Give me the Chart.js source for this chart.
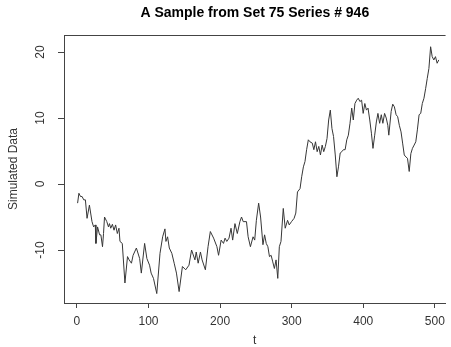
<!DOCTYPE html>
<html>
<head>
<meta charset="utf-8">
<script src="https://cdn.jsdelivr.net/npm/chart.js@4/dist/chart.umd.min.js"></script>
<style>
  html, body { margin: 0; padding: 0; background: #ffffff; }
  #wrap { width: 451px; height: 347px; position: relative; }
</style>
</head>
<body>
<div id="wrap"><canvas id="c" width="451" height="347"></canvas></div>
<script>
// ---- data ----
const tValues = [1,2.8,5.1,7.3,9.6,11.9,14.2,17.5,21.1,23.4,25.7,26.6,28.9,31.7,33.5,35.8,37.2,38.6,41.8,44.1,45.5,47.3,49.6,51.9,54.1,56.5,58.8,60.2,63.4,67.1,70.7,73,76.2,78.5,83.1,87.7,90,94.6,97.8,101.5,103.7,107,111.6,116.1,119.8,123,124.4,126.7,129.1,132.6,135.9,139.1,142.8,147.4,152,156.6,160.2,164.9,166.7,169.4,172.6,174.9,179.5,183.2,186.4,191,195.6,197.9,201.5,204.8,207,209.4,212.5,215.3,217.6,220.8,224.1,227.7,230,232.3,236.9,239.2,242.4,246.1,248.4,250.7,253.9,256.6,259.9,262.2,264.5,266.8,269,271.3,273.6,275.9,278.2,280.6,282.8,285.1,288.3,291,294.3,296.6,299.8,303.4,305.8,308.1,311.7,314,316.4,318.6,320.9,323.3,325.5,328.8,331,333.3,335.6,337.9,340.2,342.6,344.8,347.1,349.4,351.7,354,356.3,358.5,360.9,363.2,365.4,367.8,370.1,372.3,374.7,377,379.2,381.5,383.9,386.1,388.4,390.8,393,395.3,397.7,399.9,402.2,404.5,406.7,409.1,411.4,413.6,416,418.3,420.5,422.9,425.2,427.4,429.8,432.1,434.3,435.7,439,441.2,443.5,445.9,448.1,450.4,452.8,455,457.3,459.6,461.8,464.2,466.5,468.7,471.1,473.4,475.6,478,480.3,482.5,484.8,487.2,489.4,491.7,494.1,496.3,498.6,500.9,503.2,505.5];
const simulated = [-2.9,-1.4,-1.9,-1.9,-2.4,-2.4,-5.2,-3.2,-5.7,-6.5,-6.2,-9.0,-6.5,-7.7,-7.7,-9.5,-7.5,-5.0,-5.7,-6.5,-6.0,-6.7,-6.1,-7.0,-6.2,-7.5,-6.7,-8.7,-9.0,-15.0,-11.0,-11.5,-12.0,-10.8,-9.7,-11.3,-13.5,-9.0,-11.3,-12.3,-13.5,-14.3,-16.6,-10.5,-8.0,-6.8,-8.7,-8.0,-9.7,-10.5,-12.0,-13.5,-16.3,-12.5,-13.0,-12.3,-10.0,-11.5,-10.3,-12.0,-10.3,-11.5,-13.0,-9.5,-7.2,-8.2,-9.5,-10.8,-8.5,-9.0,-8.2,-8.7,-8.2,-6.7,-8.5,-6.0,-7.5,-5.7,-5.0,-5.7,-5.7,-8.0,-9.5,-8.0,-8.5,-5.5,-2.9,-5.0,-9.2,-7.7,-9.0,-9.5,-11.0,-10.8,-11.8,-12.8,-11.5,-14.3,-9.5,-8.7,-3.7,-6.7,-5.5,-6.2,-5.7,-5.2,-4.4,-1.2,-0.7,1.1,2.6,3.4,5.2,6.7,6.4,6.2,5.2,6.4,4.9,5.7,4.4,5.9,4.9,5.7,6.9,9.7,11.2,8.4,7.2,4.4,1.1,2.6,4.7,4.9,5.2,5.2,6.7,7.4,9.2,11.5,9.7,12.2,12.7,13.0,12.5,12.7,10.7,12.2,11.2,11.5,9.7,7.7,5.4,7.4,9.4,10.7,9.2,10.5,9.2,10.7,10.0,8.9,7.4,11.0,12.1,11.7,10.5,10.2,8.9,7.9,6.2,4.4,4.1,3.9,1.9,4.6,5.4,5.9,6.4,8.2,10.5,10.7,12.2,13.0,14.5,16.0,17.5,20.8,19.3,18.8,19.3,18.3,18.8];
const xTickValues = [0, 100, 200, 300, 400, 500];
const yTickValues = [-10, 0, 10, 20];
const chartTitle = 'A Sample from Set 75 Series # 946';
const xLabel = 't';
const yLabel = 'Simulated Data';

const points = tValues.map((t, i) => ({ x: t, y: simulated[i] }));
const FONT = "'Liberation Sans', Arial, sans-serif";

const topBorder = {
  id: 'topBorder',
  afterDraw(chart) {
    const { ctx, chartArea } = chart;
    ctx.save();
    ctx.strokeStyle = '#444444';
    ctx.lineWidth = 1;
    ctx.beginPath();
    ctx.moveTo(chartArea.left, Math.round(chartArea.top) + 0.5);
    ctx.lineTo(chartArea.right, Math.round(chartArea.top) + 0.5);
    ctx.stroke();
    ctx.restore();
  }
};

new Chart(document.getElementById('c'), {
  type: 'line',
  data: {
    datasets: [{
      data: points,
      borderColor: '#363636',
      borderWidth: 1,
      pointRadius: 0,
      tension: 0,
      fill: false
    }]
  },
  options: {
    responsive: false,
    animation: false,
    devicePixelRatio: 1,
    layout: { padding: { left: 0, right: 0, top: 0, bottom: 0 } },
    plugins: {
      legend: { display: false },
      tooltip: { enabled: false },
      title: {
        display: true,
        text: chartTitle,
        fullSize: false,
        color: '#000000',
        font: { family: FONT, size: 14, weight: 'bold' },
        padding: { top: 4.6, bottom: 13.6 }
      }
    },
    scales: {
      x: {
        type: 'linear',
        position: 'bottom',
        min: -18,
        max: 515,
        afterBuildTicks: (s) => { s.ticks = xTickValues.map(v => ({ value: v })); },
        afterFit: (s) => { s.height = 44; },
        ticks: {
          color: '#333333',
          font: { family: FONT, size: 12 },
          padding: 6,
          maxRotation: 0,
          minRotation: 0
        },
        grid: { drawOnChartArea: false, drawTicks: true, tickLength: 5, color: '#444444', lineWidth: 1 },
        border: { display: true, color: '#444444', width: 1 },
        title: {
          display: true,
          text: xLabel,
          color: '#333333',
          font: { family: FONT, size: 12 },
          padding: { top: 0, bottom: -1 }
        }
      },
      y: {
        type: 'linear',
        position: 'left',
        min: -18.03,
        max: 22.58,
        afterBuildTicks: (s) => { s.ticks = yTickValues.map(v => ({ value: v })); },
        afterFit: (s) => { s.width = 64; },
        ticks: {
          color: '#333333',
          font: { family: FONT, size: 12 },
          padding: 9,
          minRotation: 90,
          maxRotation: 90,
          crossAlign: 'center'
        },
        grid: { drawOnChartArea: false, drawTicks: true, tickLength: 6, color: '#444444', lineWidth: 1 },
        border: { display: true, color: '#444444', width: 1 },
        title: {
          display: true,
          text: yLabel,
          color: '#333333',
          font: { family: FONT, size: 12 },
          padding: { top: 6, bottom: 0 }
        }
      }
    }
  },
  plugins: [topBorder]
});
</script>
</body>
</html>
